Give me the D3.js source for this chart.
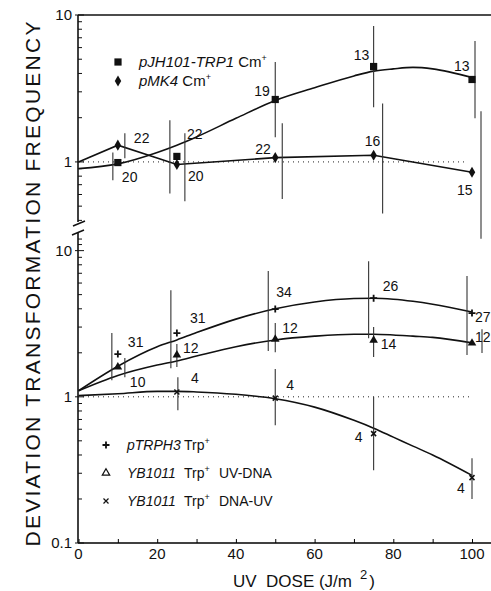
<!DOCTYPE html>
<html>
<head>
<meta charset="utf-8">
<script src="https://cdn.jsdelivr.net/npm/d3@7"></script>
<style>
  body { margin: 0; background: #fff; }
  text { font-family: "Liberation Sans", Arial, sans-serif; fill: #111; }
</style>
</head>
<body>
<div id="viz-container"></div>
<script>
// UV dose of each measured point
let doses = [10, 25, 50, 75, 100];
// doses where the fitted curves were read
let fitDoses = [0, 10, 20, 25, 30, 40, 50, 60, 70, 75, 80, 85, 90, 100];

// upper panel: pJH101-TRP1 Cm+
let jhVals = [0.99, 1.09, 2.66, 4.46, 3.64];
let jhLow = [0.75, 0.61, 1.47, 2.36, 1.98];
let jhHigh = [1.16, 1.92, 4.78, 8.4, 6.65];
let jhN = [20, 22, 19, 13, 13];
let jhFit = [0.90, 0.97, 1.16, 1.3, 1.48, 1.98, 2.62, 3.2, 3.85, 4.15, 4.3, 4.4, 4.3, 3.75];

// upper panel: pMK4 Cm+
let mkVals = [1.30, 0.96, 1.07, 1.11, 0.85];
let mkLow = [1.06, 0.54, 0.56, 0.445, 0.30];
let mkHigh = [1.57, 1.57, 1.83, 2.5, 2.21];
let mkN = [22, 20, 22, 16, 15];
let mkLineDoses = [0, 10, 25, 50, 75, 100];
let mkLine = [1.0, 1.30, 0.96, 1.07, 1.11, 0.85];

// lower panel: pTRPH3 Trp+
let trVals = [1.96, 2.73, 3.98, 4.73, 3.74];
let trLow = [1.30, 1.57, 2.06, 2.52, 1.93];
let trHigh = [2.73, 5.35, 7.25, 8.47, 6.7];
let trN = [31, 31, 34, 26, 27];
let trFit = [1.1, 1.62, 2.2, 2.45, 2.75, 3.4, 4.0, 4.45, 4.7, 4.72, 4.65, 4.5, 4.3, 3.8];

// lower panel: YB1011 Trp+ UV-DNA
let udVals = [1.6, 1.93, 2.48, 2.44, 2.33];
let udLow = [1.36, 1.6, 2.02, 1.87, 1.99];
let udHigh = [1.84, 2.3, 3.2, 3.0, 2.9];
let udN = [10, 12, 12, 14, 12];
let udFit = [1.1, 1.4, 1.65, 1.76, 1.9, 2.2, 2.45, 2.6, 2.68, 2.68, 2.65, 2.6, 2.55, 2.34];

// lower panel: YB1011 Trp+ DNA-UV
let duDoses = [25, 50, 75, 100];
let duVals = [1.08, 0.98, 0.56, 0.28];
let duLow = [0.81, 0.64, 0.315, 0.20];
let duHigh = [1.36, 1.55, 1.0, 0.38];
let duN = [4, 4, 4, 4];
let duFit = [1.02, 1.05, 1.09, 1.09, 1.08, 1.04, 0.97, 0.85, 0.69, 0.61, 0.53, 0.46, 0.40, 0.29];

let xTicks = [0, 20, 40, 60, 80, 100];
let topTicks = [1, 10];
let botTicks = [0.1, 1, 10];

// layout bits (pixel shifts of error bars and count labels)
let jhShift = [-5, -7, 0, 0, 3];
let mkShift = [7, 8, 7, 9, 9];
let trShift = [-6, -6, -7, -5, -5];
let udShift = [7, 0, 0, 0, 10];
let duShift = [1, 0, 0, 0];
let jhLab = [[4, 19], [10, -17], [-21, -3], [-20, -7], [-18, -8]];
let mkLab = [[16, -2], [11, 16], [-20, -4], [-9, -9], [-15, 23]];
let trLab = [[10, -7], [13, -10], [1, -12], [9, -7], [3, 9]];
let udLab = [[12, 20], [6, -2], [7, -6], [7, 9], [3, -1]];
let duLab = [[14, -9], [11, -8], [-19, 8], [-15, 15]];

let viz = d3.select("#viz-container")
            .append("svg")
                .attr("width", 491)
                .attr("height", 591)
;

let x = d3.scaleLinear().domain([0, 100]).range([78.5, 472]);
let yTop = d3.scaleLog().domain([0.39, 10]).range([222, 15]);
let yBot = d3.scaleLog().domain([0.1, 13.2]).range([543, 233]);

// axes
let xAxis = d3.axisBottom(x).tickValues(d3.range(0, 101, 10)).tickSize(-4).tickFormat("");
viz.append("g").attr("transform", "translate(0,543)").call(xAxis)
    .call(g => g.select(".domain").attr("d", "M78,0H491").attr("stroke-width", 1.6));
viz.selectAll(".xlab").data(xTicks).enter().append("text")
    .attr("x", d => x(d))
    .attr("y", 559)
    .attr("text-anchor", "middle")
    .attr("font-size", 15)
    .text(d => d)
;

function yAxis(scale, minors, majors, y0, y1) {
  let g = viz.append("g");
  g.append("line").attr("x1", 78).attr("x2", 78).attr("y1", y0).attr("y2", y1)
      .attr("stroke", "#111").attr("stroke-width", 1.6);
  g.selectAll(".mn").data(minors).enter().append("line")
      .attr("x1", 78).attr("x2", 82)
      .attr("y1", d => scale(d)).attr("y2", d => scale(d))
      .attr("stroke", "#111");
  g.selectAll(".mj").data(majors).enter().append("line")
      .attr("x1", 75).attr("x2", 84)
      .attr("y1", d => scale(d)).attr("y2", d => scale(d))
      .attr("stroke", "#111");
  g.selectAll(".lb").data(majors).enter().append("text")
      .attr("x", 72).attr("y", d => scale(d) + 5)
      .attr("text-anchor", "end").attr("font-size", 15)
      .text(d => d);
}
yAxis(yTop, [0.4, 0.5, 0.6, 0.7, 0.8, 0.9, 2, 3, 4, 5, 6, 7, 8, 9], topTicks, 15, 222);
yAxis(yBot, [0.2, 0.3, 0.4, 0.5, 0.6, 0.7, 0.8, 0.9, 2, 3, 4, 5, 6, 7, 8, 9, 11, 12], botTicks, 233, 543);

// axis break and top frame line
viz.append("line").attr("x1", 73).attr("y1", 226).attr("x2", 85).attr("y2", 221).attr("stroke", "#111").attr("stroke-width", 1.5);
viz.append("line").attr("x1", 72).attr("y1", 235).attr("x2", 84).attr("y2", 230).attr("stroke", "#111").attr("stroke-width", 1.5);
viz.append("line").attr("x1", 78).attr("y1", 15).attr("x2", 491).attr("y2", 15).attr("stroke", "#111").attr("stroke-width", 1.6);

// dotted lines at 1
viz.append("line").attr("x1", 78).attr("x2", 467).attr("y1", yTop(1)).attr("y2", yTop(1))
    .attr("stroke", "#222").attr("stroke-dasharray", "1,4");
viz.append("line").attr("x1", 78).attr("x2", 472).attr("y1", yBot(1)).attr("y2", yBot(1))
    .attr("stroke", "#222").attr("stroke-dasharray", "1,4");

// titles
viz.append("text")
    .attr("transform", "translate(40,284) rotate(-90)")
    .attr("text-anchor", "middle")
    .attr("font-size", 21)
    .attr("textLength", 525)
    .attr("lengthAdjust", "spacing")
    .text("DEVIATION TRANSFORMATION FREQUENCY")
;
let xt = viz.append("text").attr("x", 233).attr("y", 587).attr("font-size", 17);
xt.append("tspan").text("UV  DOSE (J/m").attr("style", "white-space:pre");
xt.append("tspan").attr("dx", 8).attr("dy", -8).attr("font-size", 13).text("2");
xt.append("tspan").attr("dx", 2).attr("dy", 8).text(")");

// curves
function curve(ds, vs, scale, smooth) {
  let line = d3.line().x(d => x(d[0])).y(d => scale(d[1]));
  if (smooth) line.curve(d3.curveMonotoneX);
  viz.append("path")
      .attr("d", line(d3.zip(ds, vs)))
      .attr("fill", "none")
      .attr("stroke", "#111")
      .attr("stroke-width", 1.6);
}
curve(fitDoses, jhFit, yTop, true);
curve(mkLineDoses, mkLine, yTop, false);
curve(fitDoses, trFit, yBot, true);
curve(fitDoses, udFit, yBot, true);
curve(fitDoses, duFit, yBot, true);

// error bars
function bars(ds, lo, hi, shift, scale) {
  viz.selectAll(null).data(ds).enter().append("line")
      .attr("x1", (d, i) => x(d) + shift[i])
      .attr("x2", (d, i) => x(d) + shift[i])
      .attr("y1", (d, i) => scale(hi[i]))
      .attr("y2", (d, i) => scale(lo[i]))
      .attr("stroke", "#333")
      .attr("stroke-width", 1.1);
}
bars(doses, jhLow, jhHigh, jhShift, yTop);
bars(doses, mkLow, mkHigh, mkShift, yTop);
bars(doses, trLow, trHigh, trShift, yBot);
bars(doses, udLow, udHigh, udShift, yBot);
bars(duDoses, duLow, duHigh, duShift, yBot);

// markers
let sq = d3.symbol().type(d3.symbolSquare).size(52);
let dm = d3.symbol().type(d3.symbolDiamond).size(36);
let tri = d3.symbol().type(d3.symbolTriangle).size(32);
let plusPath = "M-3.5,0H3.5M0,-3.5V3.5";
let crossPath = "M-2.5,-2.5L2.5,2.5M-2.5,2.5L2.5,-2.5";

function marks(ds, vs, scale, kind) {
  let sel = viz.selectAll(null).data(ds).enter().append("path")
      .attr("transform", (d, i) => "translate(" + x(d) + "," + scale(vs[i]) + ")");
  if (kind == "sq") sel.attr("d", sq()).attr("fill", "#111");
  if (kind == "dm") sel.attr("d", dm()).attr("fill", "#111");
  if (kind == "tri") sel.attr("d", tri()).attr("fill", "#111");
  if (kind == "plus") sel.attr("d", plusPath).attr("stroke", "#111").attr("stroke-width", 1.8);
  if (kind == "x") sel.attr("d", crossPath).attr("stroke", "#111").attr("stroke-width", 1.5);
}
marks(doses, jhVals, yTop, "sq");
marks(doses, mkVals, yTop, "dm");
marks(doses, trVals, yBot, "plus");
marks(doses, udVals, yBot, "tri");
marks(duDoses, duVals, yBot, "x");

// count labels
function counts(ds, vs, ns, off, scale) {
  viz.selectAll(null).data(ds).enter().append("text")
      .attr("x", (d, i) => x(d) + off[i][0])
      .attr("y", (d, i) => scale(vs[i]) + off[i][1])
      .attr("font-size", 14)
      .text((d, i) => ns[i]);
}
counts(doses, jhVals, jhN, jhLab, yTop);
counts(doses, mkVals, mkN, mkLab, yTop);
counts(doses, trVals, trN, trLab, yBot);
counts(doses, udVals, udN, udLab, yBot);
counts(duDoses, duVals, duN, duLab, yBot);

// legends
function legendRow(mx, my, kind, fs, parts) {
  let m = viz.append("path").attr("transform", "translate(" + mx + "," + my + ")");
  if (kind == "sq") m.attr("d", sq()).attr("fill", "#111");
  if (kind == "dm") m.attr("d", dm()).attr("fill", "#111");
  if (kind == "tri") m.attr("d", d3.symbol().type(d3.symbolTriangle).size(24)()).attr("fill", "none").attr("stroke", "#111").attr("stroke-width", 1.2);
  if (kind == "plus") m.attr("d", plusPath).attr("stroke", "#111").attr("stroke-width", 1.8);
  if (kind == "x") m.attr("d", crossPath).attr("stroke", "#111").attr("stroke-width", 1.2);
  let t = viz.append("text").attr("y", my + 5).attr("font-size", fs);
  parts.forEach(p => {
    let s = t.append("tspan").text(p.t);
    if (p.x) s.attr("x", p.x);
    if (p.it) s.attr("font-style", "italic");
    if (p.sup) s.attr("font-size", 9).attr("dy", -6);
    if (p.down) s.attr("dy", 6);
  });
}
legendRow(118, 62, "sq", 15, [{t: "pJH101-TRP1", x: 139, it: true}, {t: " Cm"}, {t: "+", sup: true}]);
legendRow(118, 81, "dm", 15, [{t: "pMK4", x: 139, it: true}, {t: " Cm"}, {t: "+", sup: true}]);
legendRow(106, 445, "plus", 14, [{t: "pTRPH3", x: 127, it: true}, {t: "Trp", x: 184}, {t: "+", sup: true}]);
legendRow(106, 473, "tri", 14, [{t: "YB1011", x: 127, it: true}, {t: "Trp", x: 184}, {t: "+", sup: true}, {t: "UV-DNA", x: 219, down: true}]);
legendRow(106, 501, "x", 14, [{t: "YB1011", x: 127, it: true}, {t: "Trp", x: 184}, {t: "+", sup: true}, {t: "DNA-UV", x: 219, down: true}]);
</script>
</body>
</html>
